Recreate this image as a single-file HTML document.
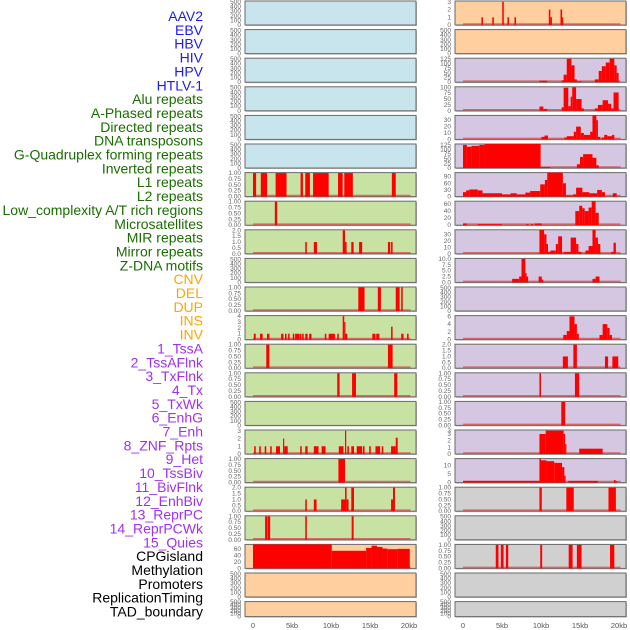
<!DOCTYPE html>
<html><head><meta charset="utf-8">
<style>
html,body{margin:0;padding:0;background:#fff;width:630px;height:630px;overflow:hidden}
svg{display:block}
.lbl{font-family:"Liberation Sans",sans-serif;font-size:14px}
.tk{font-family:"Liberation Sans",sans-serif;font-size:6.5px;fill:#666}
.xt{font-family:"Liberation Sans",sans-serif;font-size:7.5px;fill:#555}
</style></head>
<body>
<svg id="chart" width="630" height="630" viewBox="0 0 630 630" xmlns="http://www.w3.org/2000/svg"></svg>
<script>
const trackNames = ["AAV2","EBV","HBV","HIV","HPV","HTLV-1","Alu repeats","A-Phased repeats","Directed repeats","DNA transposons","G-Quadruplex forming repeats","Inverted repeats","L1 repeats","L2 repeats","Low_complexity A/T rich regions","Microsatellites","MIR repeats","Mirror repeats","Z-DNA motifs","CNV","DEL","DUP","INS","INV","1_TssA","2_TssAFlnk","3_TxFlnk","4_Tx","5_TxWk","6_EnhG","7_Enh","8_ZNF_Rpts","9_Het","10_TssBiv","11_BivFlnk","12_EnhBiv","13_ReprPC","14_ReprPCWk","15_Quies","CPGisland","Methylation","Promoters","ReplicationTiming","TAD_boundary"];
const labelColors = ["#1a1aff","#1a1aff","#1a1aff","#1a1aff","#1a1aff","#1a1aff","#1a6e00","#1a6e00","#1a6e00","#1a6e00","#1a6e00","#1a6e00","#1a6e00","#1a6e00","#1a6e00","#1a6e00","#1a6e00","#1a6e00","#1a6e00","#ffa500","#ffa500","#ffa500","#ffa500","#ffa500","#a030f0","#a030f0","#a030f0","#a030f0","#a030f0","#a030f0","#a030f0","#a030f0","#a030f0","#a030f0","#a030f0","#a030f0","#a030f0","#a030f0","#a030f0","#000","#000","#000","#000","#000"];
const E=["0","100","200","300","400","500"], B=["0.00","0.25","0.50","0.75","1.00"], T2=["0.0","0.5","1.0","1.5","2.0"];
const BL="#c8e4ec", GR="#c8e2a4", OR="#ffcf9f", PU="#d5c6e2", GY="#d0d0d0";
const panelBg = [BL,BL,BL,BL,BL,BL,GR,GR,GR,GR,GR,GR,GR,GR,GR,GR,GR,GR,GR,OR,OR,OR,
OR,OR,PU,PU,PU,PU,PU,PU,PU,PU,PU,PU,PU,PU,PU,PU,PU,GY,GY,GY,GY,GY];
const panelMax = [520,520,520,520,520,520,1.02,1.02,2.04,520,1.02,4.1,1.02,1.02,520,3.1,1.02,2.04,1.02,75,520,520,
3.1,520,128,102,37.5,130,108,68,37,10.2,520,6.2,2.04,1.02,1.02,3.6,14,1.02,520,1.02,520,520];
const panelTicks = [E,E,E,E,E,E,B,B,T2,E,B,["0","1","2","3","4"],B,B,E,["0","1","2","3"],B,T2,B,["0","20","40","60"],E,E,
["0","1","2","3"],E,["0","25","50","75","100","125"],["0","25","50","75","100"],["0","10","20","30"],["0","25","50","75","100","125"],["0","30","60","90"],["0","20","40","60"],["0","10","20","30"],["0.0","2.5","5.0","7.5","10.0"],E,["0","2","4","6"],T2,B,B,["0","1","2","3","3.5"],["0","5","10"],B,E,B,E,E];
const panelSegs = [[],[],[],[],[],[],
[[0,0.4,1],[1.0,1.8,1],[2.9,4.3,1],[6.1,6.4,1],[6.7,7.3,1],[7.7,9.7,1],[10.9,11.5,1],[11.7,12.8,1],[17.8,18.3,1]],
[[2.8,3.1,1]],
[[6.7,6.9,1],[7.8,8.2,1],[11.5,11.8,2],[11.8,12.0,1],[12.6,12.9,1],[13.6,14.0,1],[17.3,17.6,1],[17.7,17.9,1]],
[],
[[13.5,14.3,1],[16.0,16.4,1],[18.3,18.8,1],[19.0,19.2,1]],
[[0.1,0.35,1],[0.9,1.24,1],[1.8,2.1,1],[3.6,3.9,1],[4.1,4.3,1],[4.5,4.7,1],[5.1,5.3,1],[5.4,5.9,1],[5.95,6.2,1],[6.3,6.5,1],[6.7,7.0,1],[7.2,7.5,1],[9.2,9.4,1],[9.7,10.5,1],[10.8,11.0,1],[11.5,11.7,4],[11.7,11.85,3],[11.85,12.1,1],[15.3,15.7,1],[15.8,16.2,1],[17.7,17.9,2.2],[19.0,19.3,1],[19.75,19.95,1]],
[[1.7,2.1,1],[17.3,17.9,1]],
[[10.8,11.1,1],[12.7,13.2,1],[18.1,18.5,1]],
[],
[[0.15,0.35,1],[0.8,1.0,1],[1.5,1.7,1],[2.2,2.4,1],[2.95,3.46,1],[3.85,4.0,2],[4.0,4.45,1],[6.05,6.25,1],[6.7,7.0,1],[7.8,8.4,1],[8.8,9.3,1],[11.0,11.6,1],[11.8,11.95,3],[12.1,12.3,1],[12.6,12.95,1],[13.3,14.0,1],[14.1,14.3,1],[14.9,15.1,1],[15.7,16.3,1],[16.5,16.7,1],[17.7,18.3,1],[18.3,18.55,2.1]],
[[10.95,11.8,1]],
[[6.7,6.9,1],[7.8,8.15,1],[11.3,11.8,1],[11.8,12.0,2],[12.0,12.25,1],[12.6,12.95,2],[17.7,17.95,1],[17.95,18.2,2]],
[[1.55,1.85,1],[1.9,2.2,1],[6.7,6.9,1],[12.65,12.9,1]],
[[0,10.1,75],[10.1,14.5,55],[14.5,15.2,64],[15.2,15.9,71],[15.9,16.6,67],[16.6,17.2,62],[17.2,18.5,60],[18.5,20.1,61]],
[],[],
[[2.36,2.56,1],[3.76,3.96,1],[5.03,5.23,3],[5.7,5.9,1],[6.6,6.8,1],[11.0,11.2,2],[11.2,11.4,1],[12.5,12.7,2],[12.7,12.8,1]],
[],
[[9.8,10.8,8],[12.65,12.9,10],[12.9,13.3,40],[13.3,13.9,125],[13.9,14.3,90],[14.3,14.6,15],[14.6,15.2,5],[16.9,17.4,15],[17.4,17.8,60],[17.8,18.3,85],[18.3,18.8,105],[18.8,19.4,125],[19.4,19.7,90],[19.7,19.95,50]],
[[9.8,10.3,18],[10.3,10.8,8],[12.65,12.9,15],[12.9,13.5,98],[13.5,13.8,20],[13.8,14.0,60],[14.0,14.5,100],[14.5,15.2,50],[15.2,15.5,10],[16.9,17.3,10],[17.3,17.9,25],[17.9,18.6,45],[18.6,19.0,30],[19.0,19.3,10],[19.3,19.95,78]],
[[10.05,10.45,4],[10.45,10.9,6],[13.0,13.3,3],[13.3,14.2,5],[14.2,14.5,12],[14.5,15.1,20],[15.1,15.5,10],[15.5,16.3,7],[16.3,16.6,12],[16.6,17.1,38],[17.1,17.3,30],[17.3,17.6,4],[17.8,18.1,3],[18.1,18.5,7],[18.5,19.1,5],[19.1,19.4,7]],
[[0,0.5,125],[0.5,1.1,115],[1.1,2.1,120],[2.1,2.75,125],[2.75,9.95,130],[9.95,11.2,5],[14.6,15.0,20],[15.0,15.4,60],[15.4,16.6,75],[16.6,17.1,55],[17.1,17.4,15]],
[[0,0.4,20],[0.4,0.8,28],[0.8,1.9,32],[1.9,2.5,28],[2.5,5.0,15],[5.0,6.1,10],[6.1,6.9,15],[6.9,8.0,10],[8.0,8.6,18],[8.6,9.9,25],[9.9,10.5,55],[10.5,10.8,75],[10.8,12.8,108],[12.8,13.2,60],[13.2,14.1,5],[14.1,14.5,10],[14.5,15.3,40],[15.3,16.2,20],[16.2,17.2,15],[17.2,17.8,30],[17.8,18.2,20],[19.2,19.7,15]],
[[0,0.5,5],[1.9,5.0,3],[8.1,8.4,3],[8.7,9.0,3],[9.2,10.1,5],[14.4,14.9,40],[14.9,15.3,55],[15.3,15.6,48],[15.6,16.1,40],[16.1,16.5,50],[16.5,17.0,68],[17.0,17.4,35]],
[[9.8,10.4,37],[10.4,10.7,30],[10.7,10.9,15],[10.9,11.2,3],[11.2,11.9,5],[11.9,12.2,15],[12.2,12.7,27],[12.9,13.8,3],[13.8,14.5,25],[14.5,14.8,15],[14.8,15.2,3],[15.7,16.1,5],[16.1,16.6,12],[16.6,17.0,40],[17.0,17.3,25],[17.3,17.6,15],[19.0,19.3,3],[19.3,19.6,17]],
[[6.3,7.2,1.5],[7.2,7.5,2.5],[7.5,8.0,10],[8.0,8.1,4],[8.1,8.35,2.5],[9.7,10.1,2.5],[10.1,10.3,1.2],[16.6,17.0,1.5],[17.0,17.5,2.5]],
[],
[[12.85,13.3,1.2],[13.3,13.65,2.2],[13.65,14.3,6],[14.3,14.6,4],[14.6,14.85,1.5],[17.5,17.9,1.2],[17.9,18.5,4],[18.5,18.8,3],[18.8,19.1,1.2]],
[[12.8,13.45,1],[14.15,14.6,2],[18.2,18.6,1],[19.15,19.9,1]],
[[9.8,10.0,1],[14.35,14.9,1]],
[[12.6,13.1,1]],
[[9.8,10.6,3],[10.6,12.9,3.5],[12.9,13.1,3],[13.1,13.25,1.5],[14.9,17.9,0.8]],
[[0,9.8,1],[9.8,10.0,14],[10.0,10.7,13],[10.7,11.7,12.5],[11.7,12.7,11.5],[12.7,13.0,9],[13.0,13.1,4],[13.5,17.3,1],[19.35,19.55,1.5],[19.55,19.75,0.8]],
[[9.8,10.1,1],[13.25,14.2,1],[18.65,19.6,1]],
[],
[[4.2,4.55,1],[4.85,5.2,1],[5.5,5.8,1],[9.9,10.15,1],[13.55,14.05,1],[14.6,15.2,1],[18.85,19.4,1]],
[],[]];
const xTickVals = [0,5,10,15,20];
const xTickLabels = ["0","5kb","10kb","15kb","20kb"];

const NS="http://www.w3.org/2000/svg";
const svg=document.getElementById('chart');
function mk(tag,attrs,parent){const e=document.createElementNS(NS,tag);for(const k in attrs)e.setAttribute(k,attrs[k]);(parent||svg).appendChild(e);return e;}

trackNames.forEach((n,i)=>{
  const t=mk('text',{x:203,y:(21+i*13.85).toFixed(1),'text-anchor':'end',class:'lbl',fill:labelColors[i]});
  t.textContent=n;
  
  
});

const colX=[245,455], colW=171;
const kbToPx=7.8;
function xScale(col,kb){return colX[col]+8+kb*kbToPx;}

for(let p=0;p<44;p++){
  const col=p<22?0:1, row=p%22;
  const top=1+row*28.6, h=row===21?15:24;
  const g=mk('g',{});
  
  
  mk('rect',{x:colX[col]+1,y:top+1,width:colW,height:h,fill:'#bbb'},g);
  mk('rect',{x:colX[col],y:top,width:colW,height:h,fill:panelBg[p],stroke:'#6a6a6a','stroke-width':1},g);
  const ymax=panelMax[p];
  const yS=v=>top+h-Math.min(v,ymax)/ymax*h;
  panelTicks[p].forEach(lab=>{
    const v=parseFloat(lab);
    const tl=mk('text',{x:colX[col]-4,y:(yS(v)+2).toFixed(1),'text-anchor':'end',class:'tk'},g);
    tl.textContent=lab==="3.5"?"3":lab;
  });
  if(panelSegs[p].length){
    mk('line',{x1:xScale(col,0),x2:xScale(col,20.2),y1:top+h-1,y2:top+h-1,stroke:'#d85050','stroke-width':1.6,opacity:0.8},g);
  }
  panelSegs[p].forEach(s=>{
    const x0=xScale(col,s[0]), x1=xScale(col,s[1]);
    const r=mk('rect',{x:x0.toFixed(2),y:yS(s[2]).toFixed(2),width:Math.max(1.2,x1-x0).toFixed(2),height:(top+h-yS(s[2])).toFixed(2),fill:'#ff0000'},g);
    
    
  });
}
[0,1].forEach(col=>{
  xTickVals.forEach((v,i)=>{
    const t=mk('text',{x:xScale(col,v),y:628,'text-anchor':'middle',class:'xt'});
    t.textContent=xTickLabels[i];
    
    
  });
});
</script>
</body></html>
